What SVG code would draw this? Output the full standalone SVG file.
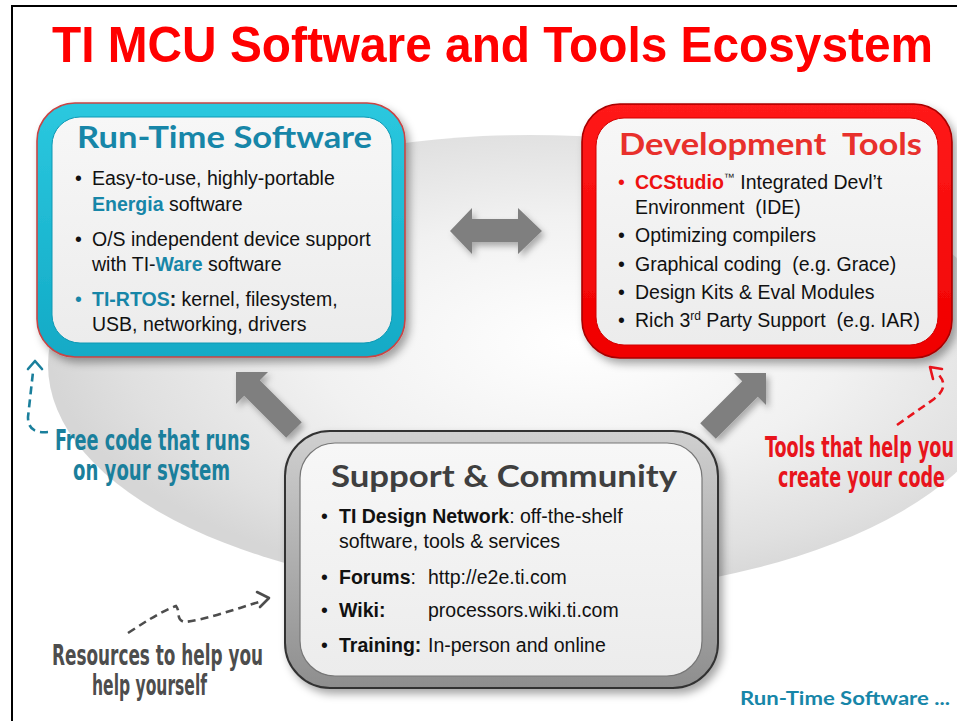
<svg xmlns="http://www.w3.org/2000/svg" width="957" height="721" viewBox="0 0 957 721">
<defs>
  <radialGradient id="bgGrad" cx="0.55" cy="0.45" r="0.55">
    <stop offset="0" stop-color="#ffffff"/>
    <stop offset="0.5" stop-color="#f1f1f1"/>
    <stop offset="0.85" stop-color="#e0e0e0"/>
    <stop offset="1" stop-color="#d6d6d6"/>
  </radialGradient>
  <linearGradient id="cyanGrad" x1="0" y1="0" x2="0" y2="1">
    <stop offset="0" stop-color="#2bc8df"/>
    <stop offset="1" stop-color="#12aac6"/>
  </linearGradient>
  <linearGradient id="redGrad" x1="0" y1="0" x2="0" y2="1">
    <stop offset="0" stop-color="#ff1a1a"/>
    <stop offset="1" stop-color="#f00000"/>
  </linearGradient>
  <linearGradient id="grayGrad" x1="0" y1="0" x2="0" y2="1">
    <stop offset="0" stop-color="#d0d0d0"/>
    <stop offset="1" stop-color="#8e8e8e"/>
  </linearGradient>
  <linearGradient id="panelGrad" x1="0" y1="0" x2="0" y2="1">
    <stop offset="0" stop-color="#f7f7f7"/>
    <stop offset="1" stop-color="#ececec"/>
  </linearGradient>
  <filter id="boxShadow" x="-10%" y="-10%" width="125%" height="130%">
    <feDropShadow dx="4" dy="5" stdDeviation="4" flood-color="#000" flood-opacity="0.35"/>
  </filter>
  <filter id="arrowShadow" x="-20%" y="-20%" width="150%" height="150%">
    <feDropShadow dx="3" dy="4" stdDeviation="3" flood-color="#000" flood-opacity="0.3"/>
  </filter>
  <style>
    .b { font-family: "Liberation Sans", Arial, sans-serif; font-size: 19.5px; fill: #111; }
    .bold { font-weight: bold; }
    .teal { fill: #1786a8; font-weight: bold; }
    .red { fill: #ee1111; font-weight: bold; }
    .ptitle { font-family: Lato, "Open Sans", sans-serif; font-weight: bold; font-size: 31px; }
    .hand { font-family: "Liberation Sans Narrow", "DejaVu Sans Condensed", sans-serif; font-weight: bold; font-size: 28px; }
    .dash { fill: none; stroke-width: 2.6; stroke-dasharray: 8 5; stroke-linecap: butt; }
    .head { fill: none; stroke-width: 2.6; stroke-linecap: round; stroke-linejoin: round; }
    .garrow { fill: #7f7f7f; }
  </style>
</defs>

<g id="background">
  <rect x="0" y="0" width="957" height="721" fill="#ffffff"/>
  <ellipse cx="530" cy="365" rx="482" ry="230" fill="url(#bgGrad)"/>
  <path d="M12 721 V6 H957" fill="none" stroke="#000" stroke-width="2"/>
</g>

<g id="title">
  <text x="52" y="62" font-family="'Liberation Sans', Arial, sans-serif" font-weight="bold" font-size="50" fill="#ff0000" textLength="881" lengthAdjust="spacingAndGlyphs">TI MCU Software and Tools Ecosystem</text>
</g>

<g id="connectors">
  <polygon class="garrow" filter="url(#arrowShadow)" points="450,231 472,208 472,219 518,219 518,208 542,231 518,254 518,242 472,242 472,254"/>
  <polygon class="garrow" filter="url(#arrowShadow)" points="236,372 268,372 259.8,380.2 301.8,422.2 286.2,437.8 244.2,395.8 236,404"/>
  <polygon class="garrow" filter="url(#arrowShadow)" points="766,373 734,373 742.2,381.2 700.2,423.2 715.8,438.8 757.8,396.8 766,405"/>
</g>

<g id="node-runtime">
  <rect x="37" y="103" width="368" height="254" rx="38" fill="url(#cyanGrad)" stroke="#c84444" stroke-width="1.6" filter="url(#boxShadow)"/>
  <rect x="52" y="117" width="340" height="226" rx="28" fill="url(#panelGrad)" stroke="#0e98b4" stroke-width="1"/>
  <text class="ptitle" x="77" y="148" fill="#1786a8" textLength="295" lengthAdjust="spacingAndGlyphs">Run-Time Software</text>
  <text class="b" x="75" y="185">•<tspan x="92">Easy-to-use, highly-portable</tspan></text>
  <text class="b" x="92" y="211"><tspan class="teal">Energia</tspan> software</text>
  <text class="b" x="75" y="246">•<tspan x="92">O/S independent device support</tspan></text>
  <text class="b" x="92" y="271">with TI-<tspan class="teal">Ware</tspan> software</text>
  <text class="b" x="75" y="306"><tspan fill="#1786a8">•</tspan><tspan x="92" class="teal">TI-RTOS</tspan><tspan class="bold">:</tspan> kernel, filesystem,</text>
  <text class="b" x="92" y="331">USB, networking, drivers</text>
</g>

<g id="node-devtools">
  <rect x="582" y="104" width="370" height="254" rx="38" fill="url(#redGrad)" stroke="#a80000" stroke-width="1.6" filter="url(#boxShadow)"/>
  <rect x="596" y="118" width="342" height="227" rx="28" fill="url(#panelGrad)" stroke="#d00000" stroke-width="1"/>
  <text class="ptitle" x="619" y="155" fill="#e8302c" textLength="303" lengthAdjust="spacingAndGlyphs" xml:space="preserve">Development  Tools</text>
  <text class="b" x="618" y="189"><tspan fill="#ee1111">•</tspan><tspan x="635" class="red">CCStudio</tspan><tspan font-size="11" dy="-8">™</tspan><tspan dy="8"> Integrated Devl’t</tspan></text>
  <text class="b" x="635" y="214" xml:space="preserve">Environment  (IDE)</text>
  <text class="b" x="618" y="242">•<tspan x="635">Optimizing compilers</tspan></text>
  <text class="b" x="618" y="271" xml:space="preserve">•<tspan x="635">Graphical coding  (e.g. Grace)</tspan></text>
  <text class="b" x="618" y="299">•<tspan x="635">Design Kits &amp; Eval Modules</tspan></text>
  <text class="b" x="618" y="327" xml:space="preserve">•<tspan x="635">Rich 3</tspan><tspan font-size="12" dy="-7">rd</tspan><tspan dy="7"> Party Support  (e.g. IAR)</tspan></text>
</g>

<g id="node-support">
  <rect x="285" y="431" width="433" height="257" rx="45" fill="url(#grayGrad)" stroke="#333" stroke-width="2" filter="url(#boxShadow)"/>
  <rect x="300" y="443" width="402" height="233" rx="35" fill="url(#panelGrad)" stroke="#777" stroke-width="1.2"/>
  <text class="ptitle" x="331" y="487" fill="#3f3f3f" textLength="346" lengthAdjust="spacingAndGlyphs">Support &amp; Community</text>
  <text class="b" x="321" y="523">•<tspan x="339" class="bold">TI Design Network</tspan>: off-the-shelf</text>
  <text class="b" x="339" y="548">software, tools &amp; services</text>
  <text class="b" x="321" y="584">•<tspan x="339" class="bold">Forums</tspan>:<tspan x="428">http://e2e.ti.com</tspan></text>
  <text class="b" x="321" y="617">•<tspan x="339" class="bold">Wiki:</tspan><tspan x="428">processors.wiki.ti.com</tspan></text>
  <text class="b" x="321" y="652">•<tspan x="339" class="bold">Training:</tspan><tspan x="428">In-person and online</tspan></text>
</g>

<g id="annotations">
  <path class="dash" stroke="#1a7f9c" d="M48,432 C36,433 28,430 28,417 L33,372"/>
  <polyline class="head" stroke="#1a7f9c" points="28,369 35,361 42,369"/>
  <text class="hand" x="55" y="450" fill="#1a7f9c" textLength="195" lengthAdjust="spacingAndGlyphs">Free code that runs</text>
  <text class="hand" x="73" y="480" fill="#1a7f9c" textLength="157" lengthAdjust="spacingAndGlyphs">on your system</text>

  <path class="dash" stroke="#e8141c" d="M897,425 L934,399 C946,390 946,381 936,372"/>
  <polyline class="head" stroke="#e8141c" points="942,369 930,367 933,379"/>
  <text class="hand" x="765" y="457" fill="#e8141c" textLength="189" lengthAdjust="spacingAndGlyphs">Tools that help you</text>
  <text class="hand" x="778" y="487" fill="#e8141c" textLength="167" lengthAdjust="spacingAndGlyphs">create your code</text>

  <path class="dash" stroke="#4d4d4d" d="M128,633 C145,622 160,612 176,606 C181,612 175,620 185,622 C208,619 236,609 262,601"/>
  <polyline class="head" stroke="#4d4d4d" points="257,592 269,598 260,607"/>
  <text class="hand" x="52" y="665" fill="#4d4d4d" textLength="211" lengthAdjust="spacingAndGlyphs">Resources to help you</text>
  <text class="hand" x="92" y="695" fill="#4d4d4d" textLength="115" lengthAdjust="spacingAndGlyphs">help yourself</text>

  <text x="740" y="705" font-family="Lato, 'Open Sans', sans-serif" font-weight="bold" font-size="19.5" fill="#1786a8" textLength="210" lengthAdjust="spacingAndGlyphs">Run-Time Software ...</text>
</g>
</svg>
